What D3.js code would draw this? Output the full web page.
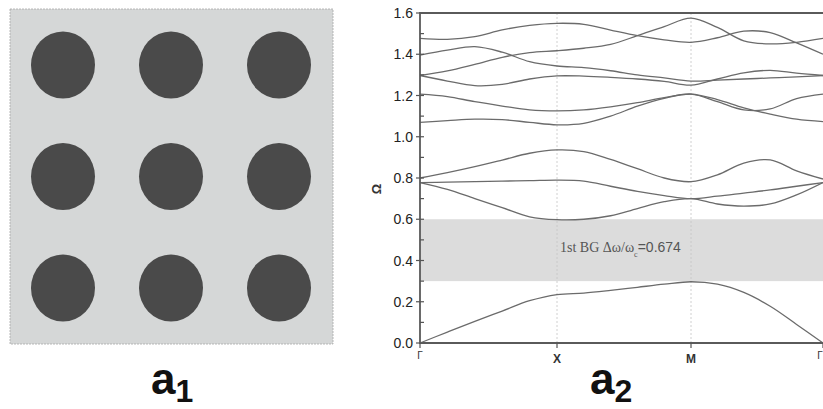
<!DOCTYPE html>
<html lang="en">
	<head>
		<meta charset="utf-8">
		<title>band structure</title>
		<script type="text/javascript" src="https://d3js.org/d3.v7.min.js"></script>
		<style type="text/css">
            body{margin:0;background:#fff;font-family:"Liberation Sans",Arial,sans-serif;}
		</style>
	</head>
	<body>
		<div id="chart1"></div>
		<script type="text/javascript">
            // unit cell (a1): 3x3 lattice of rods
            var latticeCols = [0,1,2]
            var latticeRows = [0,1,2]

            // band structure (a2): k positions along Γ-X-M-Γ
            var kGrid = [0,0.2,0.4,0.6,0.8,1.0,1.2,1.4,1.6,1.8,2.0,2.2,2.4,2.6,2.8,3.0]
            var kTicks = [0,1,2,3]
            var kLabels = ["Γ","X","M","Γ"]
            var yTicks = [0,0.2,0.4,0.6,0.8,1.0,1.2,1.4,1.6]

            var band1 = [0,0.053,0.105,0.155,0.205,0.235,0.242,0.255,0.27,0.285,0.297,0.285,0.245,0.178,0.09,0]
            var band2 = [0.778,0.745,0.70,0.656,0.612,0.598,0.60,0.617,0.652,0.685,0.70,0.674,0.664,0.674,0.718,0.778]
            var band3 = [0.778,0.78,0.782,0.785,0.787,0.79,0.785,0.76,0.735,0.715,0.70,0.712,0.727,0.742,0.76,0.778]
            var band4 = [0.80,0.826,0.855,0.887,0.92,0.936,0.928,0.89,0.845,0.80,0.782,0.815,0.872,0.888,0.835,0.795]
            var band5 = [1.07,1.078,1.085,1.083,1.07,1.058,1.065,1.10,1.148,1.186,1.207,1.17,1.13,1.135,1.185,1.207]
            var band6 = [1.207,1.195,1.17,1.149,1.13,1.125,1.13,1.145,1.165,1.19,1.207,1.18,1.14,1.11,1.085,1.073]
            var band7 = [1.297,1.27,1.248,1.254,1.28,1.295,1.294,1.288,1.28,1.268,1.25,1.28,1.31,1.322,1.308,1.297]
            var band8 = [1.396,1.42,1.437,1.41,1.364,1.343,1.335,1.32,1.30,1.285,1.27,1.275,1.28,1.285,1.29,1.297]
            var band9 = [1.297,1.319,1.351,1.385,1.408,1.417,1.429,1.448,1.49,1.534,1.575,1.53,1.465,1.45,1.458,1.477]
            var band10 = [1.477,1.472,1.485,1.518,1.54,1.55,1.545,1.517,1.49,1.47,1.458,1.48,1.512,1.505,1.455,1.40]
            var bands = [band1,band2,band3,band4,band5,band6,band7,band8,band9,band10]

            var gapLow = 0.3
            var gapHigh = 0.6

            var w = 823
            var h = 409

            var svg = d3.select("#chart1")
                        .append("svg")
                        .attr("width",w)
                        .attr("height",h)

            // ---- panel a1 ----
            var cellX = d3.scaleLinear().domain([0,2]).range([63,279])
            var cellY = d3.scaleLinear().domain([0,2]).range([65,288])

            svg.append("rect")
                .attr("x",10).attr("y",9)
                .attr("width",323).attr("height",335)
                .attr("fill","#d5d7d7")
                .attr("stroke","#a8a8a8")
                .attr("stroke-width",0.8)
                .attr("stroke-dasharray","2,1")

            var cells = []
            latticeRows.forEach(function(r){
                latticeCols.forEach(function(c){ cells.push({r:r,c:c}) })
            })
            svg.selectAll("ellipse.rod")
                .data(cells)
                .enter()
                .append("ellipse")
                .attr("class","rod")
                .attr("cx",function(d){ return cellX(d.c) })
                .attr("cy",function(d){ return cellY(d.r) })
                .attr("rx",32)
                .attr("ry",33.5)
                .attr("fill","#4a4a4a")

            var lab1 = svg.append("text")
                .attr("x",151).attr("y",394)
                .attr("font-size",44)
                .attr("font-weight","bold")
                .attr("fill","#111")
            lab1.append("tspan").text("a")
            lab1.append("tspan").attr("font-size",32).attr("dy",8).text("1")

            // ---- panel a2 ----
            var x = d3.scaleLinear().domain(kTicks).range([420,557,691,823])
            var y = d3.scaleLinear().domain([0,1.6]).range([343,13])

            // band gap strip
            svg.append("rect")
                .attr("x",x(0)).attr("y",y(gapHigh))
                .attr("width",x(3)-x(0)).attr("height",y(gapLow)-y(gapHigh))
                .attr("fill","#dcdcdc")

            // dotted symmetry lines
            svg.selectAll("line.sym")
                .data([1,2])
                .enter()
                .append("line")
                .attr("class","sym")
                .attr("x1",function(d){ return x(d) })
                .attr("x2",function(d){ return x(d) })
                .attr("y1",y(1.6)).attr("y2",y(0))
                .attr("stroke","#c4c4c4")
                .attr("stroke-width",0.8)
                .attr("stroke-dasharray","2,2")

            var line = d3.line()
                .x(function(d,i){ return x(kGrid[i]) })
                .y(function(d){ return y(d) })
                .curve(d3.curveCatmullRom.alpha(0.5))

            svg.selectAll("path.band")
                .data(bands)
                .enter()
                .append("path")
                .attr("class","band")
                .attr("d",line)
                .attr("fill","none")
                .attr("stroke","#6b6b6b")
                .attr("stroke-width",1.3)

            // frame
            svg.append("path")
                .attr("d","M"+x(3)+","+y(1.6)+"H"+x(0)+"V"+y(0)+"H"+x(3))
                .attr("fill","none")
                .attr("stroke","#5a5a5a")
                .attr("stroke-width",1.8)

            // y ticks: minor inside every 0.1, major crossing
            var minor = d3.range(1,16).map(function(i){ return i/10 })
            svg.selectAll("line.ytick")
                .data(minor)
                .enter()
                .append("line")
                .attr("x1",x(0)).attr("x2",x(0)+4)
                .attr("y1",function(d){ return y(d) })
                .attr("y2",function(d){ return y(d) })
                .attr("stroke","#555")
                .attr("stroke-width",1.2)
            svg.selectAll("line.ymajor")
                .data(yTicks)
                .enter()
                .append("line")
                .attr("x1",x(0)-4).attr("x2",x(0))
                .attr("y1",function(d){ return y(d) })
                .attr("y2",function(d){ return y(d) })
                .attr("stroke","#555")
                .attr("stroke-width",1.2)

            svg.selectAll("text.ylab")
                .data(yTicks)
                .enter()
                .append("text")
                .attr("x",413)
                .attr("y",function(d){ return y(d)+5 })
                .attr("text-anchor","end")
                .attr("font-size",14)
                .attr("fill","#222")
                .text(function(d){ return d3.format(".1f")(d) })

            // x ticks and labels
            svg.selectAll("line.xtick")
                .data(kTicks)
                .enter()
                .append("line")
                .attr("x1",function(d){ return x(d) })
                .attr("x2",function(d){ return x(d) })
                .attr("y1",y(0)).attr("y2",y(0)+5)
                .attr("stroke","#555")
                .attr("stroke-width",1.2)

            svg.selectAll("text.xlab")
                .data(kTicks)
                .enter()
                .append("text")
                .attr("x",function(d,i){ return i==3 ? x(d)-3 : x(d) })
                .attr("y",function(d,i){ return i==0 || i==3 ? 359 : 363 })
                .attr("text-anchor","middle")
                .attr("font-size",function(d,i){ return i==0 || i==3 ? 10 : 12 })
                .attr("font-weight",function(d,i){ return i==0 || i==3 ? "normal" : "bold" })
                .attr("fill","#333")
                .text(function(d,i){ return kLabels[i] })

            svg.append("text")
                .attr("transform","translate(381,189) rotate(-90)")
                .attr("text-anchor","middle")
                .attr("font-size",13)
                .attr("font-weight","bold")
                .attr("fill","#333")
                .text("Ω")

            // gap annotation
            var note = svg.append("text")
                .attr("x",560).attr("y",252)
                .attr("font-family","Liberation Serif, serif")
                .attr("font-size",14)
                .attr("fill","#555")
            note.append("tspan").text("1st BG Δω/ω")
            note.append("tspan").attr("font-size",8).attr("dy",5).text("c")
            note.append("tspan").attr("dy",-5)
                .attr("font-family","Liberation Sans, sans-serif")
                .attr("font-size",14)
                .text("=0.674")

            var lab2 = svg.append("text")
                .attr("x",590).attr("y",394)
                .attr("font-size",44)
                .attr("font-weight","bold")
                .attr("fill","#111")
            lab2.append("tspan").text("a")
            lab2.append("tspan").attr("font-size",32).attr("dy",8).text("2")
        </script>
	</body>
</html>
